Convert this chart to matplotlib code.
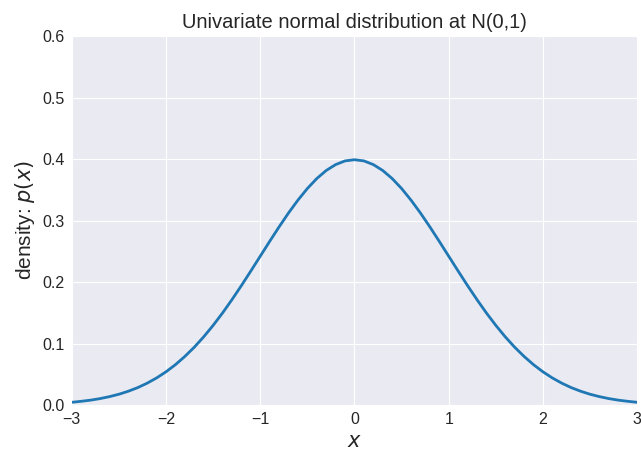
import matplotlib
matplotlib.use('Agg')
import matplotlib.pyplot as plt

# density values, step 0.1 from -3 to 3
x_vals = [-3.0, -2.9, -2.8, -2.7, -2.6, -2.5, -2.4, -2.3, -2.2, -2.1,
          -2.0, -1.9, -1.8, -1.7, -1.6, -1.5, -1.4, -1.3, -1.2, -1.1,
          -1.0, -0.9, -0.8, -0.7, -0.6, -0.5, -0.4, -0.3, -0.2, -0.1,
          0.0, 0.1, 0.2, 0.3, 0.4, 0.5, 0.6, 0.7, 0.8, 0.9,
          1.0, 1.1, 1.2, 1.3, 1.4, 1.5, 1.6, 1.7, 1.8, 1.9,
          2.0, 2.1, 2.2, 2.3, 2.4, 2.5, 2.6, 2.7, 2.8, 2.9, 3.0]
density = [0.0044, 0.0060, 0.0079, 0.0104, 0.0136, 0.0175, 0.0224, 0.0283, 0.0355, 0.0440,
           0.0540, 0.0656, 0.0790, 0.0940, 0.1109, 0.1295, 0.1497, 0.1714, 0.1942, 0.2179,
           0.2420, 0.2661, 0.2897, 0.3123, 0.3332, 0.3521, 0.3683, 0.3814, 0.3910, 0.3970,
           0.3989, 0.3970, 0.3910, 0.3814, 0.3683, 0.3521, 0.3332, 0.3123, 0.2897, 0.2661,
           0.2420, 0.2179, 0.1942, 0.1714, 0.1497, 0.1295, 0.1109, 0.0940, 0.0790, 0.0656,
           0.0540, 0.0440, 0.0355, 0.0283, 0.0224, 0.0175, 0.0136, 0.0104, 0.0079, 0.0060, 0.0044]

plt.style.use('seaborn-v0_8-darkgrid')
fig = plt.figure(figsize=(6.41, 4.51), dpi=100)
ax = fig.add_axes([0.112, 0.102, 0.882, 0.818])
ax.plot(x_vals, density, color='#1f77b4', linewidth=2)
ax.set_xlim(-3, 3)
ax.set_ylim(0, 0.6)
ax.set_title('Univariate normal distribution at N(0,1)', fontsize=14.5)
ax.set_xlabel('$x$', fontsize=15)
ax.set_ylabel('density: $p(x)$', fontsize=15)
ax.tick_params(labelsize=11.5, pad=5)
fig.savefig('out.png', dpi=100)
